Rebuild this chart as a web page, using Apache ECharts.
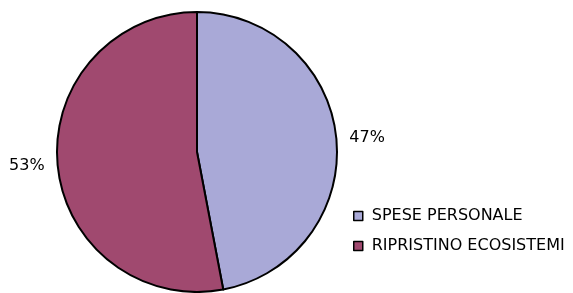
<html>
<head>
<meta charset="UTF-8">
<script src="https://cdn.jsdelivr.net/npm/echarts@6/dist/echarts.min.js"></script>
<style>html,body,#container{width:100%;height:100%;margin:0;padding:0;background:#fff;}</style>
</head>
<body>
<div id="container"></div>
<script>
var categories = ['SPESE PERSONALE', 'RIPRISTINO ECOSISTEMI'];
var values = [47, 53];
var colors = ['#A9A9D7', '#A0496F'];

var chart = echarts.init(document.getElementById('container'));
var data = categories.map(function (name, i) {
	return { name: name, value: values[i], itemStyle: { color: colors[i] } };
});

chart.setOption({
	backgroundColor: '#fff',
	animation: false,
	textStyle: { fontFamily: 'DejaVu Sans' },
	legend: {
		orient: 'vertical',
		left: 348,
		top: 203,
		icon: 'rect',
		itemWidth: 9,
		itemHeight: 9,
		itemGap: 14,
		itemStyle: { borderColor: '#000', borderWidth: 1.5 },
		textStyle: { color: '#000', fontSize: 16, padding: [0, 0, 0, 4] },
		data: categories
	},
	series: [{
		type: 'pie',
		center: [197, 152],
		radius: 140,
		startAngle: 90,
		clockwise: true,
		itemStyle: { borderColor: '#000', borderWidth: 2 },
		label: {
			show: true,
			position: 'outside',
			formatter: '{d}%',
			color: '#000',
			fontSize: 16,
			overflow: 'none'
		},
		labelLine: { show: false, length: 8, length2: 0 },
		emphasis: { disabled: true },
		data: data
	}]
});
</script>
</body>
</html>
